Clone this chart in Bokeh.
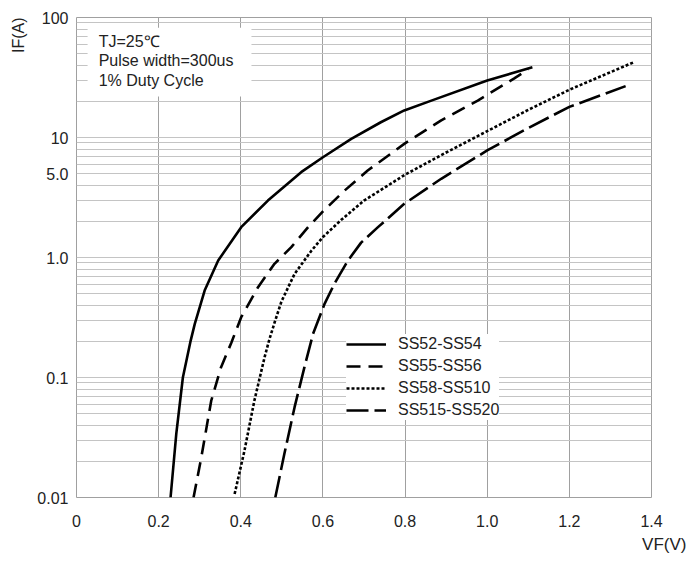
import json
from bokeh.plotting import figure
from bokeh.models import (FixedTicker, CustomJSTickFormatter, Legend, LegendItem,
                          BoxAnnotation, Title, ColumnDataSource)
from bokeh.core.properties import value
from bokeh.embed import file_html
from bokeh.resources import INLINE

# ---- data ----
series_names = ["SS52-SS54", "SS55-SS56", "SS58-SS510", "SS515-SS520"]

s1_vf = [0.229, 0.243, 0.259, 0.278, 0.288, 0.312, 0.345, 0.401, 0.466, 0.547,
         0.600, 0.669, 0.741, 0.798, 0.864, 1.000, 1.110]
s1_if = [0.010, 0.034, 0.100, 0.203, 0.280, 0.530, 0.944, 1.790, 2.980, 5.140,
         6.850, 9.750, 13.40, 16.80, 20.30, 29.90, 38.50]

s2_vf = [0.285, 0.304, 0.328, 0.352, 0.377, 0.401, 0.442, 0.482, 0.523, 0.564,
         0.600, 0.653, 0.709, 0.798, 0.888, 0.977, 1.065, 1.100]
s2_if = [0.010, 0.0217, 0.064, 0.122, 0.195, 0.318, 0.566, 0.886, 1.220, 1.790,
         2.420, 3.620, 5.310, 8.850, 13.90, 20.30, 31.00, 37.00]

s3_vf = [0.385, 0.409, 0.433, 0.458, 0.470, 0.482, 0.499, 0.531, 0.572, 0.600,
         0.644, 0.700, 0.800, 0.900, 1.000, 1.100, 1.200, 1.357]
s3_if = [0.0107, 0.0246, 0.064, 0.148, 0.210, 0.285, 0.430, 0.731, 1.140, 1.480,
         2.050, 2.980, 4.900, 7.500, 11.30, 17.00, 25.00, 42.40]

s4_vf = [0.484, 0.506, 0.531, 0.555, 0.576, 0.604, 0.628, 0.661, 0.693, 0.734,
         0.798, 0.888, 1.000, 1.100, 1.200, 1.337]
s4_if = [0.010, 0.023, 0.0566, 0.122, 0.231, 0.411, 0.604, 0.944, 1.330, 1.790,
         2.800, 4.530, 7.800, 12.00, 18.00, 26.80]

x_ticks = [0, 0.2, 0.4, 0.6, 0.8, 1.0, 1.2, 1.4]
x_tick_labels = ["0", "0.2", "0.4", "0.6", "0.8", "1.0", "1.2", "1.4"]
y_ticks = [0.01, 0.1, 1, 5, 10, 100]
y_tick_labels = ["0.01", "0.1", "1.0", "5.0", "10", "100"]

note_lines = ["TJ=25\u2103", "Pulse width=300us", "1% Duty Cycle"]
x_label = "VF(V)"
y_label = "IF(A)"

# ---- figure ----
FONT = "Liberation Sans"
p = figure(width=687, height=563, x_range=(0, 1.4), y_range=(0.01, 100),
           y_axis_type="log", output_backend="svg", toolbar_location=None,
           min_border_left=75, min_border_right=36, min_border_top=17,
           min_border_bottom=66)
p.background_fill_color = "white"
p.border_fill_color = "white"
p.outline_line_color = "#a0a0a0"
p.outline_line_width = 1

# axes
p.xaxis.ticker = FixedTicker(ticks=x_ticks)
p.xaxis.formatter = CustomJSTickFormatter(
    code="const m=%s; const k=tick.toFixed(1); return (k in m)? m[k] : String(tick);"
    % json.dumps({f"{t:.1f}": l for t, l in zip(x_ticks, x_tick_labels)}))
p.yaxis.ticker = FixedTicker(ticks=y_ticks)
p.yaxis.formatter = CustomJSTickFormatter(
    code="const m=%s; const k=String(tick); return (k in m)? m[k] : k;"
    % json.dumps({("%g" % t): l for t, l in zip(y_ticks, y_tick_labels)}))
for ax in (p.xaxis[0], p.yaxis[0]):
    ax.axis_line_color = None
    ax.major_tick_line_color = None
    ax.minor_tick_line_color = None
    ax.major_tick_out = 0
    ax.major_tick_in = 0
    ax.minor_tick_out = 0
    ax.minor_tick_in = 0
    ax.major_label_text_font = FONT
    ax.major_label_text_font_size = "16px"
    ax.major_label_text_color = "#222222"
p.xaxis.major_label_standoff = 17
p.yaxis.major_label_standoff = 8

# grids
grid_vals = []
for dec in [0.01, 0.1, 1, 10]:
    for m in range(1, 10):
        grid_vals.append(round(dec * m, 6))
grid_vals.append(100)
p.ygrid.ticker = FixedTicker(ticks=grid_vals)
p.ygrid.grid_line_color = "#c4c4c4"
p.ygrid.grid_line_width = 1
p.xgrid.ticker = FixedTicker(ticks=x_ticks[1:-1])
p.xgrid.grid_line_color = "#a0a0a0"
p.xgrid.grid_line_width = 1

# curves
styles = [("solid", 2.6), ("14 8", 2.6), ("3 2", 2.6), ("22 6", 2.6)]
data = [(s1_vf, s1_if), (s2_vf, s2_if), (s3_vf, s3_if), (s4_vf, s4_if)]
items = []
for name, (xs, ys), (dash, w) in zip(series_names, data, styles):
    src = ColumnDataSource(dict(x=xs, y=ys))
    r = p.line("x", "y", source=src, line_color="black", line_width=w,
               line_dash=dash, line_cap="butt", line_join="round")
    items.append(LegendItem(label=name, renderers=[r]))

legend = Legend(items=items, location=(270, 77), padding=4, margin=0,
                glyph_width=40, glyph_height=20, label_height=20, spacing=2,
                label_standoff=12, label_text_font=FONT,
                label_text_font_size="16px", label_text_color="#222222",
                background_fill_color="white", background_fill_alpha=1.0,
                border_line_color=None)
p.add_layout(legend, "center")

# condition note box (white background covering the grid)
note_box = BoxAnnotation(left=0.027, right=0.426, bottom=22.0, top=82.0,
                         fill_color="white", fill_alpha=1.0, line_color=None,
                         level="annotation")
p.add_layout(note_box)
note_src = ColumnDataSource(dict(x=[0.054] * 3, y=[63.0, 43.8, 29.9], t=note_lines))
p.text("x", "y", text="t", source=note_src, text_font=value(FONT),
       text_font_size="16px", text_color="#222222", text_baseline="middle",
       text_align="left", level="overlay")

# axis titles
p.add_layout(Title(text=x_label, align="right", text_font=FONT,
                   text_font_size="17px", text_font_style="normal",
                   text_color="#222222", offset=-35, standoff=6), "below")
p.add_layout(Title(text=y_label, align="right", text_font=FONT,
                   text_font_size="16px", text_font_style="normal",
                   text_color="#222222", offset=0, standoff=15), "left")

open("out.html", "w").write(file_html(p, INLINE))
